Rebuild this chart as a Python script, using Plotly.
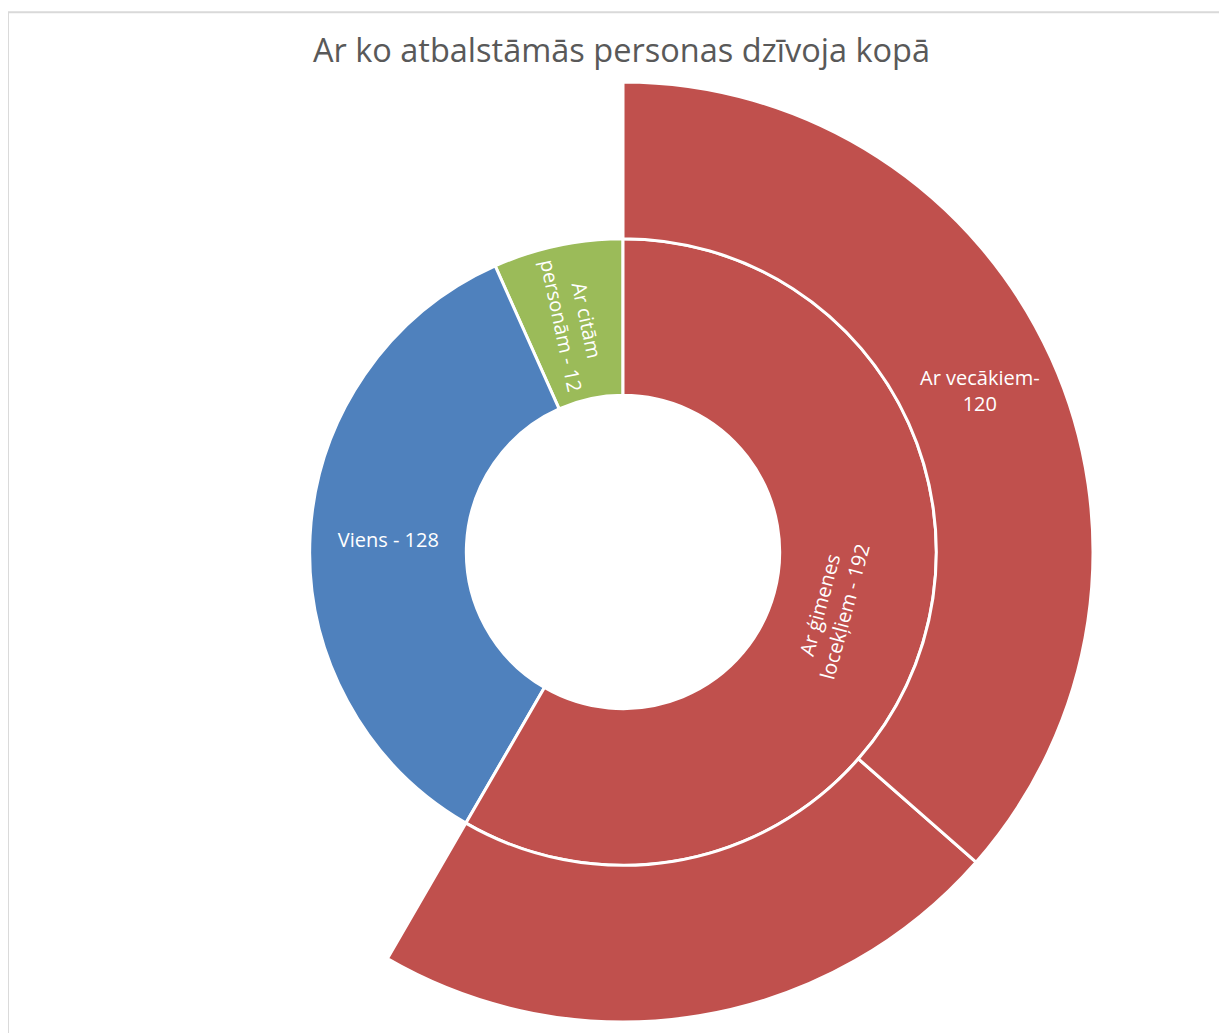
import plotly.graph_objects as go

# Data (ordered counterclockwise from 12 o'clock, as Plotly lays sunburst sectors)
ids = ["root", "citas", "viens", "gimene", "citi", "vecaki"]
labels = ["", "Ar citām personām", "Viens", "Ar ģimenes locekļiem", "", "Ar vecākiem"]
parents = ["", "root", "root", "root", "gimene", "gimene"]
values = [329, 22, 115, 192, 72, 120]
texts = ["", "Ar citām<br>personām - 12", "Viens - 128", "Ar ģimenes<br>locekļiem - 192", "", "Ar vecākiem-<br>120"]
colors = ["rgba(255,255,255,0)", "#9BBB59", "#4F81BD", "#C0504D", "#C0504D", "#C0504D"]

fig = go.Figure(go.Sunburst(
    ids=ids,
    labels=labels,
    parents=parents,
    values=values,
    text=texts,
    branchvalues="total",
    sort=False,
    rotation=90,
    texttemplate="%{text}",
    insidetextorientation="auto",
    insidetextfont=dict(family="Open Sans, Noto Sans, sans-serif", size=20, color="white"),
    leaf=dict(opacity=1),
    marker=dict(colors=colors, line=dict(color="white", width=3)),
    hoverinfo="label+value",
))

fig.update_layout(
    width=1227, height=1033,
    paper_bgcolor="white",
    margin=dict(t=74, b=19, l=145, r=142),
    title=dict(text="Ar ko atbalstāmās personas dzīvoja kopā", x=0.5, xanchor="center",
               y=0.959, yanchor="middle",
               font=dict(family="Open Sans, Noto Sans, sans-serif", size=32.5, color="#595959")),
    shapes=[dict(type="rect", xref="paper", yref="paper", x0=-0.1543, x1=1.3, y0=-0.2, y1=1.0743,
                 line=dict(color="#D9D9D9", width=2), layer="below")],
)

fig.write_html("out.html")
